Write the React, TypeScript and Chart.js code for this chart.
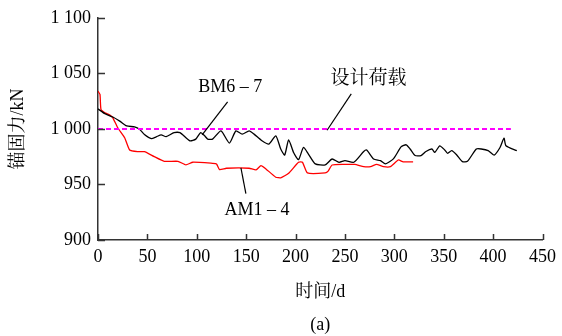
import React, { useEffect, useRef } from "react";
import { Chart, registerables } from "chart.js";

Chart.register(...registerables);

// BM6-7 (black)
const bmDays = [0, 7, 15, 22, 29, 37, 42, 47, 54, 59, 64, 69, 77, 83, 93, 99, 104, 108, 111, 116, 124.5, 133, 139.6, 146, 153, 158, 166, 173, 180, 185, 189, 193, 198, 203, 208, 213, 220, 230, 237, 244, 250, 259, 269, 272, 279, 286, 291, 299, 307, 312, 316, 321, 327, 332, 338, 341, 346, 351, 354, 358, 363, 369, 374, 383, 388, 395, 401, 407, 411, 413, 424];
const bmValues = [1018, 1013.7, 1010.7, 1007, 1002.7, 1001.8, 999.7, 995, 991.3, 992.9, 994.6, 993, 996.7, 996.7, 989.3, 990.8, 996.7, 993.8, 990.8, 990.8, 998.2, 987.2, 998.2, 995.3, 998.2, 995.3, 989.3, 986.3, 993.8, 981.9, 976.5, 990.2, 978.8, 972.3, 983.3, 977.4, 968.5, 967.6, 972.9, 969.9, 971.4, 970, 979.7, 981, 973, 971.4, 968.5, 973, 984, 985.7, 981.9, 976, 976, 979.7, 981.9, 978.9, 984.8, 981, 978, 980.4, 976.8, 970.5, 970.8, 981.9, 981.9, 980.4, 976.5, 983.3, 991.7, 984.8, 980.4];

// AM1-4 (red)
const amDays = [0, 2, 3, 7, 12, 15, 20, 27, 32, 40, 47, 57, 67, 81, 89, 96, 116, 120, 123, 130, 153, 160, 165, 170, 180, 185, 193, 203, 207, 212, 230, 233, 237, 249, 260, 269, 276, 282, 289, 296, 304, 309, 319];
const amValues = [1034, 1031, 1017.6, 1014.6, 1012.5, 1010, 1001, 992, 981, 979.5, 979.5, 975, 970.8, 970.8, 967.6, 970, 969, 968.5, 963.4, 964.6, 964.6, 963.1, 967, 964, 956.5, 956, 960, 970, 970, 960.4, 960.4, 962, 967.5, 968, 968, 966, 966, 968, 966, 966, 972, 970.3, 970.3];

// Design load
const designDays = [0, 418];
const designValues = [1000, 1000];

const xTicks = [0, 50, 100, 150, 200, 250, 300, 350, 400, 450];
const yTicks = [900, 950, 1000, 1050, 1100];
const yTickLabels = ["900", "950", "1 000", "1 050", "1 100"];

const xTitle = "时间/d";
const yTitle = "锚固力/kN";
const caption = "(a)";
const labelBM = "BM6 – 7";
const labelAM = "AM1 – 4";
const labelDesign = "设计荷载";

const FONT = "'Liberation Serif', 'Times New Roman', 'Noto Serif CJK SC', 'Noto Sans CJK SC', serif";

const toPts = (xs: number[], ys: number[]) => xs.map((x, i) => ({ x, y: ys[i] }));

const overlay = {
  id: "overlay",
  afterDraw(chart: any) {
    const { ctx, chartArea, scales } = chart;
    const xs = scales.x;
    const ys = scales.y;
    ctx.save();
    // inward ticks
    ctx.strokeStyle = "#333";
    ctx.lineWidth = 1.5;
    ctx.beginPath();
    xTicks.forEach((v) => {
      const px = Math.round(xs.getPixelForValue(v)) + 0.5;
      ctx.moveTo(px, chartArea.bottom);
      ctx.lineTo(px, chartArea.bottom - 6);
    });
    yTicks.forEach((v) => {
      const py = Math.round(ys.getPixelForValue(v)) + 0.5;
      ctx.moveTo(chartArea.left, py);
      ctx.lineTo(chartArea.left + 7, py);
    });
    ctx.stroke();

    // leader lines
    const lines = [
      [131.2, 1024.4, 105.4, 994.6],
      [256.4, 1031.5, 231.9, 998.8],
      [144.7, 964.9, 149.7, 941.7],
    ];
    ctx.strokeStyle = "#000";
    ctx.lineWidth = 1.2;
    lines.forEach(([x1, y1, x2, y2]) => {
      ctx.beginPath();
      ctx.moveTo(xs.getPixelForValue(x1), ys.getPixelForValue(y1));
      ctx.lineTo(xs.getPixelForValue(x2), ys.getPixelForValue(y2));
      ctx.stroke();
    });

    // annotation texts
    ctx.fillStyle = "#000";
    ctx.textAlign = "center";
    ctx.textBaseline = "middle";
    ctx.font = `18px ${FONT}`;
    const texts: [string, number, number][] = [
      [labelBM, 133.9, 1037.5],
      [labelAM, 161, 926.8],
    ];
    texts.forEach(([t, x, y]) => {
      ctx.fillText(t, xs.getPixelForValue(x), ys.getPixelForValue(y));
    });
    ctx.font = `19px ${FONT}`;
    ctx.fillText(labelDesign, xs.getPixelForValue(273.8), ys.getPixelForValue(1044.6));

    // axis titles
    ctx.font = `18px ${FONT}`;
    const cx = (chartArea.left + chartArea.right) / 2;
    ctx.fillText(xTitle, cx, 292);
    ctx.fillText(caption, cx, 325);
    ctx.save();
    ctx.translate(18, (chartArea.top + chartArea.bottom) / 2);
    ctx.rotate(-Math.PI / 2);
    ctx.fillText(yTitle, 0, 0);
    ctx.restore();
    ctx.restore();
  },
};

export default function App() {
  const ref = useRef<HTMLCanvasElement>(null);
  useEffect(() => {
    if (!ref.current) return;
    const chart = new Chart(ref.current, {
      type: "line",
      data: {
        datasets: [
          {
            label: labelDesign,
            data: toPts(designDays, designValues),
            borderColor: "#ff00ff",
            borderWidth: 2,
            borderDash: [5, 3],
            pointRadius: 0,
          },
          {
            label: labelBM,
            data: toPts(bmDays, bmValues),
            borderColor: "#000000",
            borderWidth: 1.3,
            pointRadius: 0,
            tension: 0.2,
          },
          {
            label: labelAM,
            data: toPts(amDays, amValues),
            borderColor: "#ff0000",
            borderWidth: 1.3,
            pointRadius: 0,
            tension: 0.15,
          },
        ],
      },
      options: {
        responsive: false,
        animation: false,
        layout: { padding: { left: 0, right: 17, top: 16, bottom: 0 } },
        plugins: { legend: { display: false }, tooltip: { enabled: false } },
        scales: {
          x: {
            type: "linear",
            min: 0,
            max: 450,
            afterBuildTicks: (s: any) => {
              s.ticks = xTicks.map((v) => ({ value: v }));
            },
            afterFit: (s: any) => {
              s.height = 96;
            },
            grid: { display: true, drawOnChartArea: false, drawTicks: false },
            border: { display: true, color: "#333", width: 1.5 },
            ticks: {
              padding: 6,
              color: "#000",
              font: { family: FONT, size: 18 },
              maxRotation: 0,
              autoSkip: false,
            },
          },
          y: {
            type: "linear",
            min: 900,
            max: 1100,
            afterBuildTicks: (s: any) => {
              s.ticks = yTicks.map((v) => ({ value: v }));
            },
            afterFit: (s: any) => {
              s.width = 98;
            },
            grid: { display: true, drawOnChartArea: false, drawTicks: false },
            border: { display: true, color: "#333", width: 1.5 },
            ticks: {
              padding: 7,
              color: "#000",
              font: { family: FONT, size: 18 },
              autoSkip: false,
              callback: (v: any) => {
                const i = yTicks.indexOf(Number(v));
                return i >= 0 ? yTickLabels[i] : "";
              },
            },
          },
        },
      },
      plugins: [overlay],
    });
    return () => chart.destroy();
  }, []);
  return (
    <div style={{ position: "fixed", left: 0, top: 0, width: 562, height: 336, background: "#fff" }}>
      <canvas ref={ref} width={562} height={336} style={{ width: 562, height: 336 }} />
    </div>
  );
}
